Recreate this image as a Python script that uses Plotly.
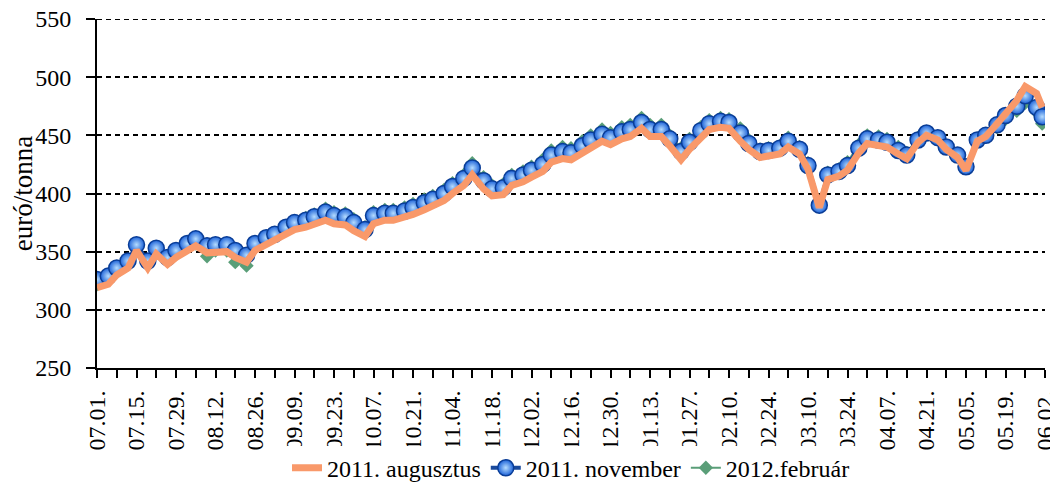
import pandas as pd
import plotly.graph_objects as go

# kereskedési napok (hétfő / csütörtök mintavétel), 2010.07.01 - 2011.06.01
dates = list(pd.date_range("2010-07-01", "2011-05-30", freq="W-THU").union(
    pd.date_range("2010-07-01", "2011-05-30", freq="W-MON")))
dates.append(pd.Timestamp("2011-06-01"))

aug_2011 = [319, 322, 330, 336, 351, 336, 348, 339, 345, 351,
            355, 349, 350, 350, 345, 341, 351, 356, 359, 365,
            369, 371, 373, 377, 374, 373, 368, 363, 374, 377,
            377, 379, 382, 386, 389, 394, 400, 407, 416, 404,
            398, 399, 407, 410, 414, 419, 427, 430, 429, 435,
            440, 445, 442, 447, 449, 456, 449, 449, 441, 429,
            438, 448, 455, 457, 456, 445, 438, 431, 432, 434,
            440, 434, 421, 388, 412, 415, 420, 435, 443, 442,
            440, 434, 430, 444, 450, 446, 438, 431, 420, 445,
            449, 460, 469, 480, 492, 486, 474]

nov_2011 = [326, 329, 336, 342, 356, 342, 353, 345, 351, 357,
            361, 355, 356, 356, 351, 347, 357, 362, 365, 371,
            375, 377, 380, 384, 381, 380, 375, 369, 381, 383,
            383, 385, 388, 392, 395, 400, 406, 413, 422, 411,
            404, 405, 413, 416, 420, 425, 433, 436, 435, 441,
            446, 451, 448, 453, 455, 461, 455, 455, 447, 436,
            444, 454, 460, 462, 461, 452, 443, 436, 437, 439,
            445, 438, 424, 390, 416, 419, 424, 439, 447, 446,
            444, 437, 433, 446, 452, 448, 440, 433, 423, 446,
            450, 459, 467, 475, 484, 474, 466]

feb_2012 = [322, 326, 333, 339, 353, 339, 350, 342, 348, 354,
            357, 346, 351, 351, 341, 338, 354, 361, 364, 371,
            376, 379, 382, 387, 384, 383, 378, 371, 384, 386,
            386, 388, 391, 395, 398, 403, 409, 416, 426, 414,
            407, 408, 416, 419, 423, 429, 437, 440, 439, 445,
            450, 455, 452, 457, 459, 465, 459, 459, 450, 439,
            447, 457, 463, 465, 464, 456, 446, 438, 439, 441,
            448, 440, 426, 391, 418, 421, 427, 442, 450, 449,
            447, 440, 435, 448, 453, 448, 440, 432, 422, 445,
            449, 457, 464, 471, 478, 470, 460]

FONT = "Liberation Serif"
SIZE = 24

fig = go.Figure()

fig.add_trace(go.Scatter(
    x=dates, y=feb_2012, name="2012.február", mode="lines+markers",
    line=dict(color="#5a9e78", width=2),
    marker=dict(symbol="diamond", size=11, color="#5a9e78")
))

fig.add_trace(go.Scatter(
    x=dates, y=nov_2011, name="2011. november", mode="lines+markers",
    line=dict(color="#1a4a9c", width=4),
    marker=dict(size=16, color="#1c62d8",
                gradient=dict(type="radial", color="#b5dcff"),
                line=dict(color="#0a3d96", width=1.5))
))

fig.add_trace(go.Scatter(
    x=dates, y=aug_2011, name="2011. augusztus", mode="lines",
    line=dict(color="#f9996a", width=7)
))

# az oldal 8 px-es body margóval jelenik meg, ezért kisebb a figura
fig.update_layout(
    template="none",
    width=1050, height=477,
    margin=dict(l=89, r=13, t=11, b=117, pad=0, autoexpand=False),
    paper_bgcolor="white", plot_bgcolor="white",
    font_family=FONT, font_size=SIZE, font_color="black",
    showlegend=True,
    legend=dict(orientation="h", traceorder="reversed",
                x=0.5, xanchor="center", y=-0.287, yanchor="middle",
                font=dict(family=FONT, size=SIZE, color="black"),
                itemwidth=30),
    xaxis_tickfont_family=FONT, xaxis_tickfont_size=SIZE,
    yaxis_tickfont_family=FONT, yaxis_tickfont_size=SIZE,
)

# felső (550-es) rácsvonal
fig.add_shape(type="line", xref="paper", yref="y", x0=0, x1=1, y0=550, y1=550,
              line=dict(color="black", width=2, dash="5px,4px"), layer="below")

fig.update_xaxes(
    type="date", range=["2010-07-01", "2011-06-02"], automargin=False,
    tick0="2010-07-01", dtick=14 * 86400000, tickformat="%m.%d.",
    tickangle=-90, ticklabelstandoff=3, ticklabeloverflow="allow",
    ticks="outside", ticklen=8, tickwidth=2, tickcolor="black",
    minor=dict(dtick=7 * 86400000, tick0="2010-07-01", ticks="outside",
               ticklen=8, tickwidth=2, tickcolor="black", showgrid=False),
    showline=True, linecolor="black", linewidth=2,
    showgrid=False, zeroline=False,
)

fig.update_yaxes(
    range=[250, 550], dtick=50, automargin=False,
    ticks="outside", ticklen=9, tickwidth=2, ticklabelstandoff=10,
    ticklabeloverflow="allow",
    tickcolor="black", showline=True, linecolor="black", linewidth=2,
    showgrid=True, gridcolor="black", gridwidth=2, griddash="5px,4px",
    zeroline=False,
    title=dict(text="euró/tonna", font=dict(family=FONT, size=27)),
)

fig.write_html("out.html")
